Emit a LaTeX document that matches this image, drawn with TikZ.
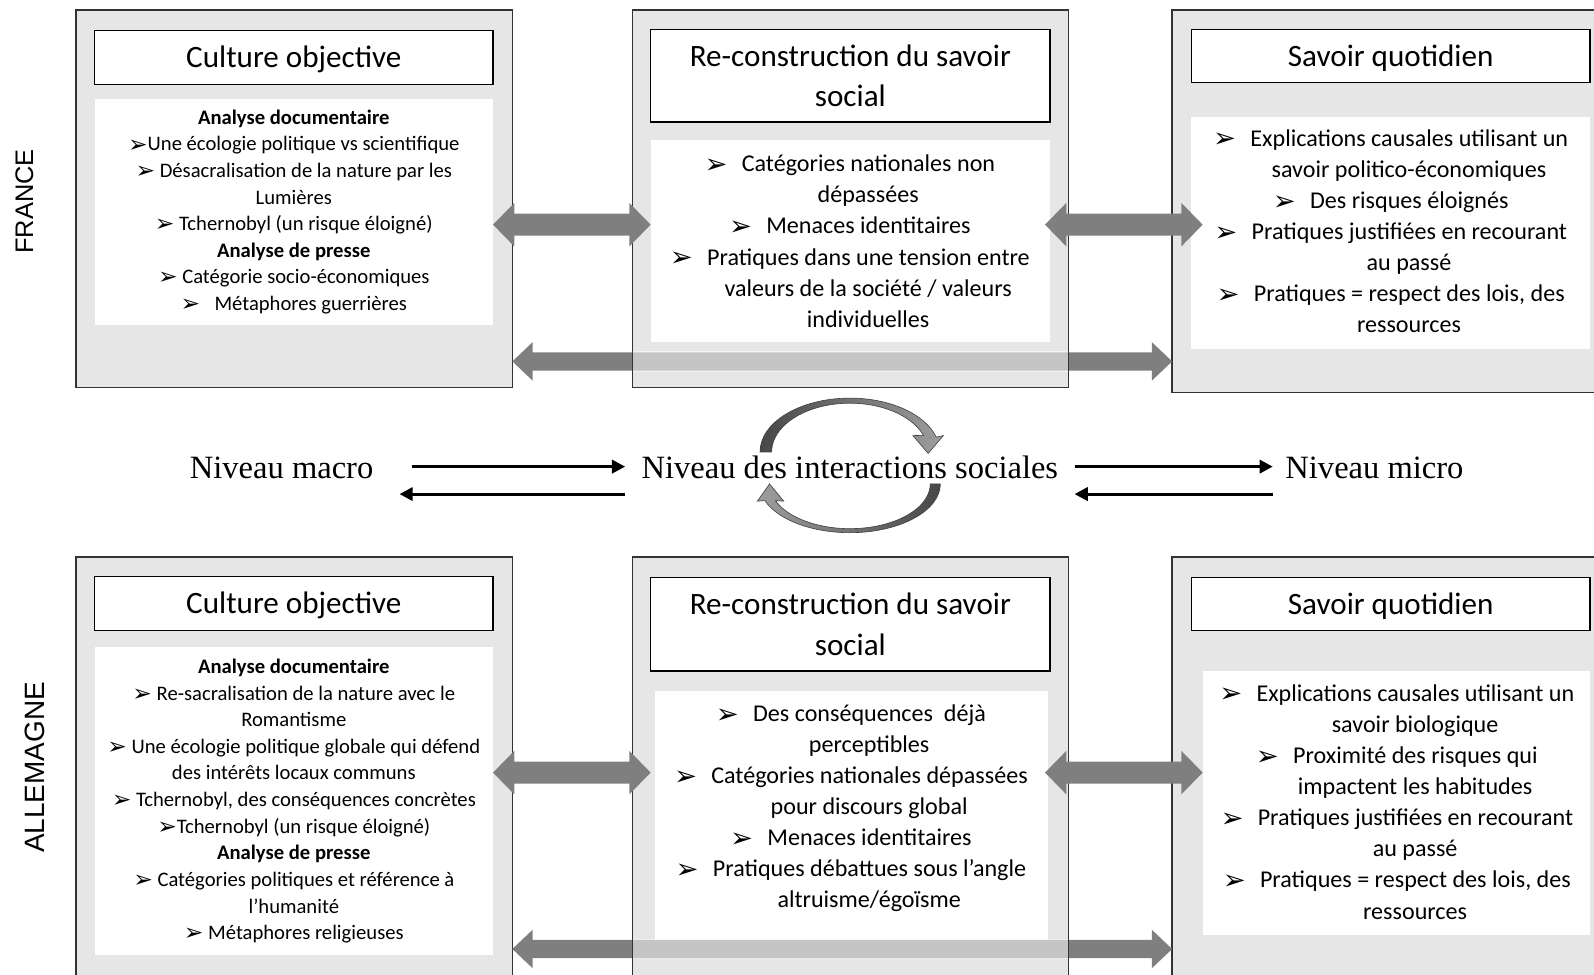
\documentclass[tikz,border=0pt]{standalone}
\usepackage{fontspec}
\setmainfont{Carlito}
\newfontfamily\serifft{Liberation Serif}
\newfontfamily\sansft{Liberation Sans}
\newfontfamily\dvft{DejaVu Sans}
\usetikzlibrary{arrows.meta,calc}
\definecolor{boxgray}{HTML}{E6E6E6}
\definecolor{arrgray}{HTML}{7F7F7F}
\definecolor{edge}{HTML}{333333}
\newcommand\bl{\raisebox{-1.5pt}{\dvft\fontsize{27}{27}\selectfont ➢}}
\newcommand\bs{\raisebox{-1.2pt}{\dvft\fontsize{23}{23}\selectfont ➢}}
\newcommand\ind{\hspace*{36pt}}
\newcommand\gap{\hspace{14pt}}
\newcommand\bx[7]{\node[#1, minimum width={(#5-#3)*1pt}, minimum height={(#6-#4)*1pt}] (#2) at (#3,#4) {#7};}
\newcommand\txtcol[6]{\foreach \t [count=\i] in {#6}{\node[#1] (#2-\i) at (#3,{#4+(\i-1)*#5}) {\t};}}
\newcommand\blockarr[5]{\fill[arrgray] (#1) -- ($(#1)+(#5,-#4)$) -- ($(#1)+(#5,-#3)$) -- ($(#2)+(-#5,-#3)$) -- ($(#2)+(-#5,-#4)$) -- (#2) -- ($(#2)+(-#5,#4)$) -- ($(#2)+(-#5,#3)$) -- ($(#1)+(#5,#3)$) -- ($(#1)+(#5,#4)$) -- cycle;}
\tikzset{
 outerbox/.style={draw=edge, line width=1.6pt, fill=boxgray, inner sep=0pt, outer sep=0pt, anchor=north west},
 titlebox/.style={draw=black, line width=1.3pt, fill=white, inner sep=0pt, outer sep=0pt, anchor=north west, align=center, font=\fontsize{30.6}{40}\selectfont},
 titlebox1/.style={draw=black, line width=1.3pt, fill=white, inner sep=0pt, outer sep=0pt, anchor=north west, text height=20.5pt, text depth=0pt, font=\fontsize{30.6}{40}\selectfont},
 contentbox/.style={fill=white, inner sep=0pt, outer sep=0pt, anchor=north west},
 bodyS/.style={inner sep=0pt, anchor=mid, font=\fontsize{20.3}{26}\selectfont},
 bodyL/.style={inner sep=0pt, anchor=mid, font=\fontsize{23.7}{30.6}\selectfont},
 lvl/.style={font=\serifft\fontsize{32}{32}\selectfont, inner sep=0pt, anchor=base},
 thinarrow/.style={line width=3pt, -{Triangle[width=13pt,length=13pt]}},
 cyc/.style={draw=black!75, line width=0.6pt},
 country/.style={font=\sansft\fontsize{26}{26}\selectfont, rotate=90, inner sep=0pt}
}
\begin{document}
\begin{tikzpicture}[x=1pt,y=-1pt]
\clip (0,0) rectangle (1568,959);
% ---------- boxes ----------
\bx{outerbox}{tlo}{75}{10}{504}{381}{}
\bx{outerbox}{tmo}{622}{10}{1051}{381}{}
\bx{outerbox}{tro}{1153}{10}{1600}{386}{}
\bx{outerbox}{blo}{75}{548}{504}{1000}{}
\bx{outerbox}{bmo}{622}{548}{1051}{1000}{}
\bx{outerbox}{bro}{1153}{548}{1600}{1000}{}
\bx{titlebox1}{tlt}{93}{30}{485}{83}{Culture objective}
\bx{titlebox}{tmt}{640}{29}{1033}{120}{Re-construction du savoir\\social}
\bx{titlebox1}{trt}{1172}{29}{1564}{81}{Savoir quotidien}
\bx{titlebox1}{blt}{93}{567}{485}{620}{Culture objective}
\bx{titlebox}{bmt}{640}{568}{1033}{660}{Re-construction du savoir\\social}
\bx{titlebox1}{brt}{1172}{568}{1564}{620}{Savoir quotidien}
\bx{contentbox}{tlw}{93}{97}{485}{320}{}
\bx{contentbox}{tmw}{640}{138}{1033}{336}{}
\bx{contentbox}{trw}{1172}{115}{1564}{343}{}
\bx{contentbox}{blw}{93}{636}{485}{939}{}
\bx{contentbox}{bmw}{644}{680}{1031}{940}{}
\bx{contentbox}{brw}{1183}{660}{1564}{920}{}
% ---------- long arrows ----------
\coordinate (L1a) at (tlo.east |- 0,355.5);
\coordinate (L1b) at (tro.west |- 0,355.5);
\coordinate (L2a) at (blo.east |- 0,933.5);
\coordinate (L2b) at (bro.west |- 0,933.5);
\blockarr{L1a}{L1b}{9}{19}{20}
\blockarr{L2a}{L2b}{9}{19}{20}
\fill[white, opacity=.55] (622,345.5) rectangle (1051,365.5);
\fill[white, opacity=.55] (622,923.5) rectangle (1051,943.5);
\draw[edge, line width=1.6pt] (tmo.north west) rectangle (tmo.south east);
\draw[edge, line width=1.6pt] (bmo.north west) rectangle (bmo.south east);
% ---------- short arrows ----------
\coordinate (S1a) at (tlw.east |- 0,221);
\coordinate (S1b) at (tmw.west |- 0,221);
\coordinate (S2a) at ($(tmw.east |- 0,221)+(-5,0)$);
\coordinate (S2b) at ($(trw.west |- 0,221)+(11,0)$);
\coordinate (S3a) at (blw.east |- 0,760);
\coordinate (S3b) at ($(bmw.west |- 0,760)+(-4,0)$);
\coordinate (S4a) at ($(bmw.east |- 0,760)+(-3,0)$);
\coordinate (S4b) at (brw.west |- 0,760);
\blockarr{S1a}{S1b}{10.75}{21.5}{21}
\blockarr{S2a}{S2b}{10.75}{21.5}{21}
\blockarr{S3a}{S3b}{10.75}{21.5}{21}
\blockarr{S4a}{S4b}{10.75}{21.5}{21}
% ---------- texts ----------
\txtcol{bodyS}{tl}{289}{120}{26.1}{{\textbf{Analyse documentaire}},{\bs Une écologie politique vs scientifique},{\bs\ Désacralisation de la nature par les},{Lumières},{\bs\ Tchernobyl (un risque éloigné)},{\textbf{Analyse de presse}},{\bs\ Catégorie socio-économiques},{\bs\hspace{14pt}Métaphores guerrières}}
\txtcol{bodyL}{tm}{836}{166.5}{30.6}{{\bl\gap Catégories nationales non},{\ind dépassées},{\bl\gap Menaces identitaires},{\bl\gap Pratiques dans une tension entre},{\ind valeurs de la société / valeurs},{\ind individuelles}}
\txtcol{bodyL}{tr}{1368}{141.5}{30.6}{{\bl\gap Explications causales utilisant un},{\ind savoir politico-économiques},{\bl\gap Des risques éloignés},{\bl\gap Pratiques justifiées en recourant},{\ind au passé},{\bl\gap Pratiques = respect des lois, des},{\ind ressources}}
\txtcol{bodyS}{bl}{289}{660}{26.2}{{\textbf{Analyse documentaire}},{\bs\ Re-sacralisation de la nature avec le},{Romantisme},{\bs\ Une écologie politique globale qui défend},{des intérêts locaux communs},{\bs\ Tchernobyl, des conséquences concrètes},{\bs Tchernobyl (un risque éloigné)},{\textbf{Analyse de presse}},{\bs\ Catégories politiques et référence à},{l’humanité},{\bs\ Métaphores religieuses}}
\txtcol{bodyL}{bm}{837}{707.5}{30.5}{{\bl\gap Des conséquences\ \ déjà},{\ind perceptibles},{\bl\gap Catégories nationales dépassées},{\ind pour discours global},{\bl\gap Menaces identitaires},{\bl\gap Pratiques débattues sous l’angle},{\ind altruisme/égoïsme}}
\txtcol{bodyL}{br}{1374}{687.5}{30.6}{{\bl\gap Explications causales utilisant un},{\ind savoir biologique},{\bl\gap Proximité des risques qui},{\ind impactent les habitudes},{\bl\gap Pratiques justifiées en recourant},{\ind au passé},{\bl\gap Pratiques = respect des lois, des},{\ind ressources}}
\node[country, font=\sansft\fontsize{25}{25}\selectfont] (fr) at (24,198) {FRANCE};
\node[country, font=\sansft\fontsize{27.5}{27.5}\selectfont] (de) at (34,755) {ALLEMAGNE};
% ---------- middle row ----------
\node[lvl] (macro) at (277,471) {Niveau macro};
\node[lvl] (inter) at (836,471) {Niveau des interactions sociales};
\node[lvl] (micro) at (1352,471) {Niveau micro};
\coordinate (m1) at (405,459); \coordinate (m2) at (615,459);
\coordinate (m3) at (615,486); \coordinate (m4) at (393,486);
\coordinate (n1) at (1057,459); \coordinate (n2) at (1252,459);
\coordinate (n3) at (1252,486); \coordinate (n4) at (1057,486);
\draw[thinarrow] (m1) -- (m2);
\draw[thinarrow] (m3) -- (m4);
\draw[thinarrow] (n1) -- (n2);
\draw[thinarrow] (n3) -- (n4);
\shade[cyc, left color=black!72, right color=black!38]
 (747.6,444.6) arc[start angle=180, end angle=344, x radius=88.4, y radius=53]
 -- (928,428.5) -- (913,446) -- (898,428.5)
 -- (908.4,428.2) arc[start angle=340, end angle=180, x radius=77, y radius=48] -- cycle;
\shade[cyc, left color=black!38, right color=black!72]
 (925,476) arc[start angle=0, end angle=160, x radius=89, y radius=48]
 -- (745,493) -- (757,476) -- (771,493)
 -- (762.8,492.5) arc[start angle=158, end angle=0, x radius=79, y radius=44] -- cycle;
\end{tikzpicture}
\end{document}
